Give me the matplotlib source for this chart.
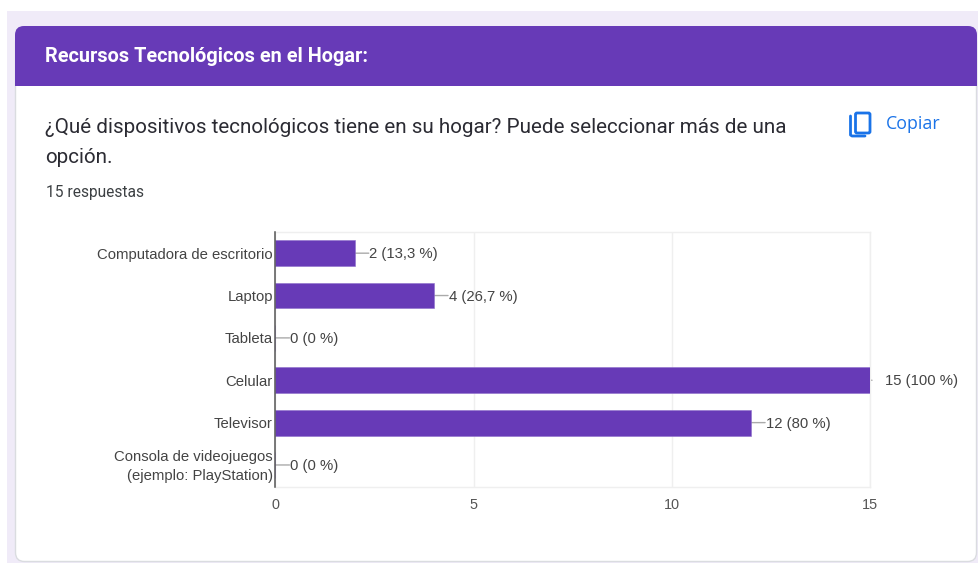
import matplotlib
matplotlib.use("Agg")
from matplotlib import pyplot as plt
from matplotlib.patches import FancyBboxPatch, Rectangle
from matplotlib.transforms import ScaledTranslation

categories = ["Computadora de escritorio", "Laptop", "Tableta", "Celular", "Televisor",
              "Consola de videojuegos\n(ejemplo: PlayStation)"]
values = [2, 4, 0, 15, 12, 0]
percents = ["13,3", "26,7", "0", "100", "80", "0"]
x_ticks = [0, 5, 10, 15]

purple = "#673AB7"
W, H = 979, 563
px = 0.72  # points per pixel at dpi 100

fig = plt.figure(figsize=(W / 100, H / 100), dpi=100, facecolor="white")

# page background and card, in pixel coordinates
bg = fig.add_axes([0, 0, 1, 1])
bg.set_xlim(0, W)
bg.set_ylim(H, 0)
bg.axis("off")
bg.add_patch(Rectangle((7, 11), W - 7, H - 11, fc="#F0EBF8", ec="none"))
bg.add_patch(FancyBboxPatch((15.5, 34), 961, 527.5, boxstyle="round,pad=0,rounding_size=9",
                            fc="white", ec="#DADCE0", lw=1))
bg.add_patch(FancyBboxPatch((15, 26), 962, 40, boxstyle="round,pad=0,rounding_size=9",
                            fc=purple, ec="none"))
bg.add_patch(Rectangle((15, 40), 962, 46, fc=purple, ec="none"))

bg.text(45, 57, "Recursos Tecnológicos en el Hogar:", color="white", family="Roboto",
        weight="bold", fontsize=14.3, va="center")
bg.text(45, 127.5, "¿Qué dispositivos tecnológicos tiene en su hogar? Puede seleccionar más de una",
        color="#2B2B33", family="Roboto", fontsize=14.85, va="center")
bg.text(45, 157.5, "opción.", color="#2B2B33", family="Roboto", fontsize=14.85, va="center")
bg.text(46, 192, "15 respuestas", color="#3C4043", family="Roboto", fontsize=11.2,
        va="center")

# copy icon
blue = "#1A73E8"
bg.add_patch(FancyBboxPatch((855.5, 113), 14.5, 20, boxstyle="round,pad=0,rounding_size=1.5",
                            fc="none", ec=blue, lw=2))
bg.plot([850.5, 850.5, 852, 865], [116, 135, 136, 136], color=blue, lw=2, solid_capstyle="round")
bg.text(886, 124, "Copiar", color=blue, family="Open Sans", fontsize=12.8, va="center")

# chart
ax = fig.add_axes([275.5 / W, 1 - 487 / H, (870 - 275.5) / W, (487 - 232) / H])
ax.patch.set_alpha(0)
y = range(len(categories))
ax.barh(y, values, height=0.61, color=purple, edgecolor="#8E6FCB", linewidth=0.4, zorder=3)
ax.set_xlim(0, 15)
ax.set_ylim(5.52, -0.5)
ax.set_xticks(x_ticks)
ax.set_yticks(list(y))
ax.set_yticklabels(categories, family="Liberation Sans", fontsize=10.75, color="#444444",
                   linespacing=1.45)
ax.set_xticklabels(x_ticks, family="Liberation Sans", fontsize=10.4, color="#555555")
ax.tick_params(axis="y", length=0, pad=1.8)
ax.tick_params(axis="x", length=0, pad=8)
ax.grid(axis="x", color="#EFEFEF", lw=1, zorder=0)
for side in ["top", "right", "bottom"]:
    ax.spines[side].set_color("#EFEFEF")
    ax.spines[side].set_linewidth(1)
ax.spines["left"].set_color("#555555")
ax.spines["left"].set_linewidth(1.1)
ax.spines["left"].set_zorder(5)

# two-line label sits a little higher than its bar centre
last = ax.get_yticklabels()[-1]
last.set_transform(last.get_transform() + ScaledTranslation(0, 2.5 / 100, fig.dpi_scale_trans))

for i, (v, p) in enumerate(zip(values, percents)):
    gap = 15 if v == 15 else 14.5
    ax.annotate(f"{v} ({p} %)", xy=(v, i), xytext=(gap * px, -1 * px), textcoords="offset points",
                family="Liberation Sans", fontsize=10.7, color="#444444", va="center",
                annotation_clip=False, zorder=4)
    end = 2 if v == 15 else 14
    ax.annotate("", xy=(v, i), xytext=(end * px, 0), textcoords="offset points",
                arrowprops=dict(arrowstyle="-", color="#AAAAAA", lw=1, shrinkA=0, shrinkB=0),
                annotation_clip=False, zorder=2)

fig.savefig("out.png", dpi=100)
